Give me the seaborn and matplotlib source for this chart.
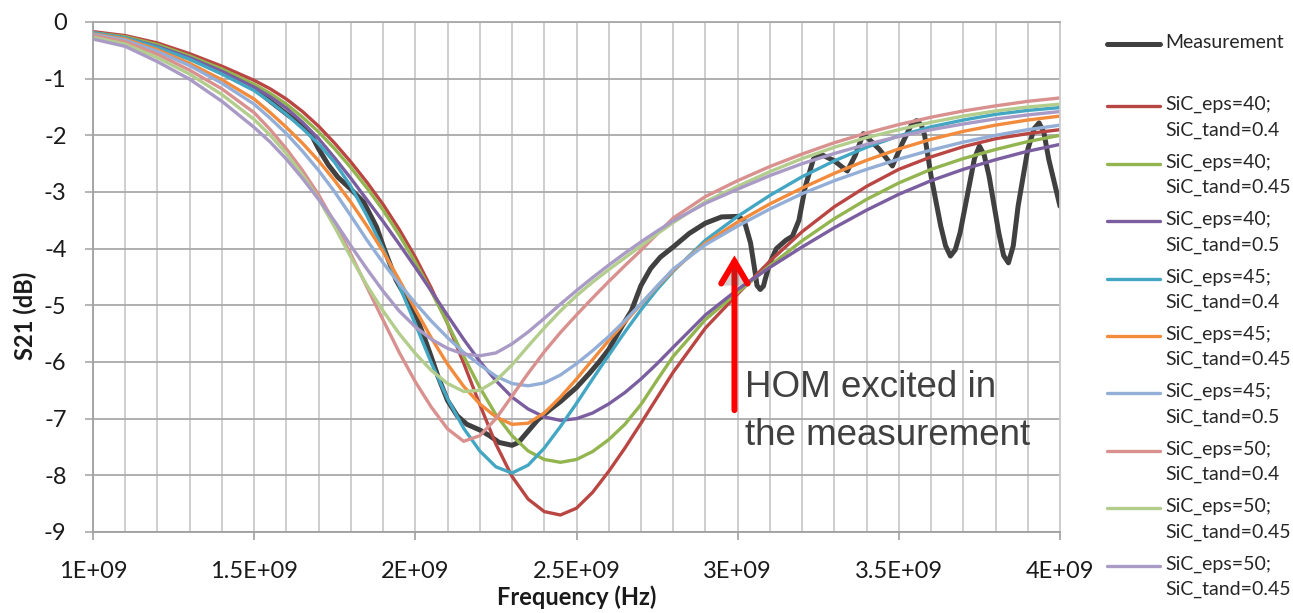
import numpy as np
import pandas as pd
import matplotlib
matplotlib.use("Agg")
import matplotlib.pyplot as plt
import matplotlib.patheffects as pe
from matplotlib.legend_handler import HandlerLine2D
from matplotlib.lines import Line2D
from matplotlib.ticker import FixedLocator, MultipleLocator
import seaborn as sns

sns.set_theme(style="white")
plt.rcParams["font.family"] = ["Lato", "DejaVu Sans"]
plt.rcParams["axes.unicode_minus"] = False

# ---------------------------------------------------------------- data
# simulation frequency grid (GHz)
freq_ghz = [1.0, 1.1, 1.2, 1.3, 1.4, 1.5, 1.55, 1.6, 1.65, 1.7, 1.75, 1.8, 1.85,
            1.9, 1.95, 2.0, 2.05, 2.1, 2.15, 2.2, 2.25, 2.3, 2.35, 2.4, 2.45, 2.5,
            2.55, 2.6, 2.65, 2.7, 2.75, 2.8, 2.9, 3.0, 3.1, 3.2, 3.3, 3.4, 3.5,
            3.6, 3.7, 3.8, 3.9, 4.0]

eps40_tand040 = [-0.17, -0.24, -0.37, -0.56, -0.78, -1.03, -1.18, -1.36, -1.58, -1.84,
                 -2.14, -2.47, -2.83, -3.22, -3.66, -4.15, -4.70, -5.32, -6.02, -6.75,
                 -7.45, -8.02, -8.42, -8.64, -8.70, -8.58, -8.30, -7.93, -7.52, -7.08,
                 -6.63, -6.18, -5.40, -4.80, -4.22, -3.70, -3.26, -2.90, -2.60, -2.38,
                 -2.20, -2.06, -1.97, -1.90]
eps40_tand045 = [-0.19, -0.26, -0.40, -0.60, -0.83, -1.10, -1.26, -1.45, -1.68, -1.94,
                 -2.24, -2.57, -2.93, -3.32, -3.76, -4.24, -4.76, -5.32, -5.90, -6.45,
                 -6.93, -7.30, -7.57, -7.72, -7.77, -7.72, -7.58, -7.37, -7.10, -6.75,
                 -6.32, -5.90, -5.25, -4.77, -4.30, -3.86, -3.47, -3.13, -2.84, -2.60,
                 -2.41, -2.25, -2.11, -2.00]
eps40_tand050 = [-0.20, -0.28, -0.43, -0.63, -0.87, -1.15, -1.32, -1.52, -1.77, -2.06,
                 -2.40, -2.76, -3.14, -3.52, -3.92, -4.33, -4.75, -5.18, -5.60, -5.99,
                 -6.33, -6.62, -6.83, -6.97, -7.03, -7.00, -6.90, -6.74, -6.54, -6.30,
                 -6.03, -5.74, -5.17, -4.72, -4.33, -3.97, -3.63, -3.32, -3.04, -2.80,
                 -2.60, -2.43, -2.28, -2.16]
eps45_tand040 = [-0.19, -0.28, -0.45, -0.66, -0.92, -1.21, -1.41, -1.63, -1.88, -2.15,
                 -2.48, -2.90, -3.42, -4.00, -4.65, -5.33, -6.02, -6.65, -7.17, -7.57,
                 -7.85, -7.96, -7.82, -7.52, -7.14, -6.73, -6.30, -5.88, -5.47, -5.08,
                 -4.72, -4.40, -3.85, -3.43, -3.06, -2.73, -2.45, -2.21, -2.01, -1.85,
                 -1.73, -1.63, -1.56, -1.51]
eps45_tand045 = [-0.21, -0.30, -0.49, -0.73, -1.02, -1.36, -1.60, -1.86, -2.14, -2.45,
                 -2.80, -3.18, -3.60, -4.05, -4.55, -5.07, -5.58, -6.04, -6.43, -6.74,
                 -6.97, -7.10, -7.08, -6.90, -6.62, -6.30, -5.96, -5.62, -5.30, -4.98,
                 -4.67, -4.38, -3.90, -3.53, -3.21, -2.93, -2.67, -2.44, -2.24, -2.07,
                 -1.93, -1.82, -1.73, -1.66]
eps45_tand050 = [-0.22, -0.32, -0.52, -0.77, -1.08, -1.45, -1.70, -1.97, -2.28, -2.62,
                 -3.00, -3.42, -3.85, -4.25, -4.62, -4.96, -5.28, -5.57, -5.83, -6.05,
                 -6.25, -6.38, -6.42, -6.37, -6.23, -6.03, -5.80, -5.55, -5.27, -4.97,
                 -4.66, -4.36, -3.93, -3.60, -3.30, -3.03, -2.80, -2.60, -2.42, -2.26,
                 -2.12, -2.00, -1.90, -1.82]
eps50_tand040 = [-0.24, -0.35, -0.57, -0.85, -1.18, -1.60, -1.90, -2.24, -2.62, -3.05,
                 -3.55, -4.10, -4.68, -5.26, -5.83, -6.35, -6.80, -7.18, -7.40, -7.30,
                 -7.00, -6.60, -6.20, -5.82, -5.48, -5.17, -4.87, -4.58, -4.30, -4.03,
                 -3.74, -3.46, -3.08, -2.80, -2.55, -2.33, -2.13, -1.96, -1.81, -1.68,
                 -1.57, -1.48, -1.40, -1.34]
eps50_tand045 = [-0.27, -0.39, -0.63, -0.92, -1.28, -1.72, -2.00, -2.32, -2.70, -3.12,
                 -3.62, -4.15, -4.65, -5.10, -5.50, -5.85, -6.15, -6.38, -6.52, -6.50,
                 -6.33, -6.05, -5.72, -5.40, -5.10, -4.83, -4.59, -4.37, -4.16, -3.95,
                 -3.74, -3.54, -3.17, -2.90, -2.64, -2.41, -2.21, -2.04, -1.90, -1.77,
                 -1.66, -1.57, -1.50, -1.45]
eps50_tand045_b = [-0.30, -0.43, -0.70, -1.01, -1.40, -1.86, -2.12, -2.42, -2.76, -3.13,
                   -3.52, -3.95, -4.36, -4.75, -5.10, -5.38, -5.60, -5.76, -5.86, -5.89,
                   -5.84, -5.68, -5.47, -5.23, -4.98, -4.74, -4.51, -4.29, -4.08, -3.88,
                   -3.69, -3.51, -3.20, -2.95, -2.71, -2.50, -2.32, -2.16, -2.02, -1.90,
                   -1.80, -1.71, -1.64, -1.58]

# measured S21
meas_freq_ghz = [1.50, 1.55, 1.60, 1.65, 1.68, 1.70, 1.73, 1.76, 1.80, 1.84, 1.88, 1.90,
                 1.94, 1.97, 2.00, 2.03, 2.05, 2.07, 2.10, 2.13, 2.16, 2.20, 2.23, 2.26,
                 2.30, 2.32, 2.35, 2.38, 2.42, 2.45, 2.50, 2.54, 2.57, 2.60, 2.64, 2.67,
                 2.70, 2.73, 2.76, 2.80, 2.85, 2.90, 2.95, 3.00, 3.02, 3.04, 3.055, 3.06,
                 3.07, 3.08, 3.085, 3.10, 3.12, 3.15, 3.17, 3.19, 3.21, 3.235, 3.26, 3.30,
                 3.34, 3.365, 3.39, 3.44, 3.48, 3.51, 3.54, 3.555, 3.57, 3.58, 3.60, 3.63,
                 3.645, 3.66, 3.675, 3.69, 3.72, 3.735, 3.75, 3.765, 3.78, 3.81, 3.825,
                 3.84, 3.855, 3.87, 3.90, 3.92, 3.935, 3.95, 3.965, 4.00]
meas_db = [-1.17, -1.40, -1.62, -1.83, -2.02, -2.24, -2.52, -2.74, -2.95, -3.18, -3.62,
           -3.95, -4.55, -4.85, -5.15, -5.60, -5.92, -6.25, -6.68, -6.95, -7.10, -7.20,
           -7.30, -7.42, -7.47, -7.42, -7.22, -7.02, -6.83, -6.70, -6.45, -6.20, -6.00,
           -5.78, -5.38, -5.10, -4.65, -4.35, -4.15, -3.97, -3.73, -3.55, -3.44, -3.43,
           -3.50, -3.90, -4.45, -4.65, -4.72, -4.66, -4.55, -4.25, -4.00, -3.85, -3.78,
           -3.50, -2.90, -2.42, -2.34, -2.45, -2.63, -2.35, -1.97, -2.25, -2.54, -2.15,
           -1.80, -1.74, -1.82, -2.00, -2.72, -3.60, -3.95, -4.13, -4.02, -3.72, -2.84,
           -2.40, -2.19, -2.35, -2.72, -3.72, -4.12, -4.25, -3.95, -3.25, -2.25, -1.88,
           -1.78, -1.95, -2.42, -3.25]

sim_labels = ["SiC_eps=40;\nSiC_tand=0.4", "SiC_eps=40;\nSiC_tand=0.45",
              "SiC_eps=40;\nSiC_tand=0.5", "SiC_eps=45;\nSiC_tand=0.4",
              "SiC_eps=45;\nSiC_tand=0.45", "SiC_eps=45;\nSiC_tand=0.5",
              "SiC_eps=50;\nSiC_tand=0.4", "SiC_eps=50;\nSiC_tand=0.45",
              "SiC_eps=50;\nSiC_tand=0.45 "]
sim_values = [eps40_tand040, eps40_tand045, eps40_tand050,
              eps45_tand040, eps45_tand045, eps45_tand050,
              eps50_tand040, eps50_tand045, eps50_tand045_b]
sim_colors = ["#BA4643", "#93B550", "#7A5E9F", "#43A6C2", "#F28B3C",
              "#93AED7", "#D8918F", "#B3CD8D", "#A99BC6"]
meas_color = "#404040"

xtick_hz = [1.0e9, 1.5e9, 2.0e9, 2.5e9, 3.0e9, 3.5e9, 4.0e9]
xtick_labels = ["1E+09", "1.5E+09", "2E+09", "2.5E+09", "3E+09", "3.5E+09", "4E+09"]

# annotation placement (data units)
arrow_x_hz = 2.99e9
arrow_tip_db = -4.12
arrow_tail_db = -6.85
note_x_hz = 3.023e9
note_last_baseline_db = -7.47

# ---------------------------------------------------------------- frames
sim_df = pd.DataFrame({
    "freq": np.tile(np.array(freq_ghz) * 1e9, len(sim_labels)),
    "s21": np.concatenate(sim_values),
    "series": np.repeat(sim_labels, len(freq_ghz)),
})
meas_df = pd.DataFrame({"freq": np.array(meas_freq_ghz) * 1e9, "s21": meas_db})


class FirstLineHandler(HandlerLine2D):
    """Legend line drawn level with the first line of its label."""

    def __init__(self, lift=0.58, **kw):
        super().__init__(**kw)
        self.lift = lift

    def create_artists(self, legend, orig_handle, xdescent, ydescent,
                       width, height, fontsize, trans):
        artists = super().create_artists(legend, orig_handle, xdescent, ydescent,
                                         width, height, fontsize, trans)
        for a in artists:
            a.set_ydata(np.asarray(a.get_ydata()) + self.lift * fontsize)
        return artists


# ---------------------------------------------------------------- figure
fig = plt.figure(figsize=(12.93, 6.13), dpi=100)
ax = fig.add_axes([93 / 1293, 1 - 532 / 613, (1060 - 93) / 1293, (532 - 22) / 613])

sns.lineplot(data=meas_df, x="freq", y="s21", color=meas_color, linewidth=3.6,
             sort=False, estimator=None, ax=ax, legend=False)
sns.lineplot(data=sim_df, x="freq", y="s21", hue="series", hue_order=sim_labels,
             palette=sim_colors, linewidth=2.4, sort=False, estimator=None,
             ax=ax, legend=False)
for ln in ax.get_lines():
    ln.set_solid_joinstyle("round")
    ln.set_solid_capstyle("round")

ax.set_xlim(1e9, 4e9)
ax.set_ylim(-9, 0)
ax.xaxis.set_major_locator(FixedLocator(xtick_hz))
ax.set_xticklabels(xtick_labels)
ax.xaxis.set_minor_locator(MultipleLocator(1e8))
ax.yaxis.set_major_locator(MultipleLocator(1))

ax.set_axisbelow(True)
hgrid = "#A9A9A9"
vgrid = "#CACACA"
ax.grid(which="major", axis="y", color=hgrid, linewidth=1.3)
ax.grid(which="both", axis="x", color=vgrid, linewidth=1.3)

ax.tick_params(axis="x", which="major", bottom=True, direction="out", length=6,
               width=1.2, color="#A0A0A0", pad=15, labelsize=17, labelcolor="#1a1a1a")
ax.tick_params(axis="x", which="minor", bottom=False, length=0)
ax.tick_params(axis="y", which="major", left=True, direction="out", length=6,
               width=1.2, color=hgrid, pad=13, labelsize=17, labelcolor="#1a1a1a")

for side in ("left", "bottom"):
    ax.spines[side].set_color("#A0A0A0")
    ax.spines[side].set_linewidth(1.3)
ax.spines["top"].set_color(hgrid)
ax.spines["top"].set_linewidth(1.3)
ax.spines["right"].set_color(vgrid)
ax.spines["right"].set_linewidth(1.3)

ax.set_xlabel("Frequency (Hz)", fontsize=17, fontweight="bold", color="#1a1a1a")
ax.set_ylabel("S21 (dB)", fontsize=17, fontweight="bold", color="#1a1a1a")
ax.xaxis.set_label_coords(0.5, -0.127)
ax.xaxis.label.set_verticalalignment("center")
ax.yaxis.set_label_coords(-0.0703, 0.4235)
ax.yaxis.label.set_verticalalignment("center")

# annotation: higher-order mode in the measurement
ax.annotate("", xy=(arrow_x_hz, arrow_tip_db), xytext=(arrow_x_hz, arrow_tail_db),
            arrowprops=dict(arrowstyle="->,head_length=1.6,head_width=0.95",
                            color="#FF0000", lw=4.3, mutation_scale=10,
                            shrinkA=0, shrinkB=0, joinstyle="miter",
                            path_effects=[pe.SimplePatchShadow(offset=(1.5, -1.5),
                                                               alpha=0.25),
                                          pe.Normal()]))
ax.text(note_x_hz, note_last_baseline_db, "HOM excited in\nthe measurement",
        fontsize=26.5, family=["Liberation Sans", "DejaVu Sans"], color="#404040",
        linespacing=1.5, ha="left", va="baseline")

# legend
meas_handle = Line2D([], [], color=meas_color, lw=3.6)
handles = [meas_handle] + [Line2D([], [], color=c, lw=2.4) for c in sim_colors]
labels = ["Measurement\n"] + [s.rstrip() for s in sim_labels]
leg = ax.legend(handles, labels, loc="upper left",
                bbox_to_anchor=(1107 / 1293, 1 - 34 / 613),
                bbox_transform=fig.transFigure, frameon=False, fontsize=14,
                handlelength=2.7, handletextpad=0.28, borderpad=0,
                borderaxespad=0, labelspacing=0.76,
                handler_map={meas_handle: FirstLineHandler(lift=0.72),
                             Line2D: FirstLineHandler(lift=0.58)})
texts = leg.get_texts()
for t in texts:
    t.set_linespacing(1.58)
    t.set_color("#262626")
texts[0].set_linespacing(1.95)

fig.savefig("out.png", dpi=100)
